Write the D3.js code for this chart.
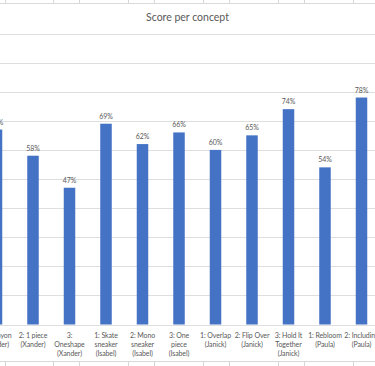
<!DOCTYPE html>
<html>
<head>
<meta charset="utf-8">
<script src="https://cdnjs.cloudflare.com/ajax/libs/d3/7.8.5/d3.min.js"></script>
<style>
  html, body { margin: 0; padding: 0; background: #fff; }
  svg { display: block; font-family: Lato, "Liberation Sans", sans-serif; }
</style>
</head>
<body>
<script>
// concepts, one line per wrapped label row
var concepts = [
	["1: Canyon", "(Xander)"],
	["2: 1 piece", "(Xander)"],
	["3:", "Oneshape", "(Xander)"],
	["1: Skate", "sneaker", "(Isabel)"],
	["2: Mono", "sneaker", "(Isabel)"],
	["3: One", "piece", "(Isabel)"],
	["1: Overlap", "(Janick)"],
	["2: Flip Over", "(Janick)"],
	["3: Hold It", "Together", "(Janick)"],
	["1: Rebloom", "(Paula)"],
	["2: Including", "(Paula)"]
];
var scores = [0.67, 0.58, 0.47, 0.69, 0.62, 0.66, 0.60, 0.65, 0.74, 0.54, 0.78];
var yTicks = [0, 0.1, 0.2, 0.3, 0.4, 0.5, 0.6, 0.7, 0.8, 0.9, 1];

var w = 375;
var h = 366;
var step = 36.5;
var firstCenter = -3.5;
var textCol = "#595959";

var svg = d3.select("body")
	.append("svg")
	.attr("width", w)
	.attr("height", h);

svg.append("rect")
	.attr("width", w)
	.attr("height", h)
	.attr("fill", "#fff");

// spreadsheet cells peeking out above and below the chart
var cellLines = [5, 53, 79, 128, 154, 203, 229, 278, 304, 353];
svg.selectAll("line.cellTop")
	.data(cellLines)
	.enter()
	.append("line")
	.attr("x1", function(d) { return d + 0.5; })
	.attr("x2", function(d) { return d + 0.5; })
	.attr("y1", 0)
	.attr("y2", 3)
	.attr("stroke", "#d6d6d6");
svg.selectAll("line.cellBot")
	.data(cellLines)
	.enter()
	.append("line")
	.attr("x1", function(d) { return d + 0.5; })
	.attr("x2", function(d) { return d + 0.5; })
	.attr("y1", 362)
	.attr("y2", h)
	.attr("stroke", "#d6d6d6");
svg.append("line").attr("x1", 0).attr("x2", w).attr("y1", 3.5).attr("y2", 3.5).attr("stroke", "#d9d9d9");
svg.append("line").attr("x1", 0).attr("x2", w).attr("y1", 361.5).attr("y2", 361.5).attr("stroke", "#d9d9d9");

var x = d3.scaleBand()
	.domain(d3.range(concepts.length))
	.range([firstCenter - step / 2, firstCenter - step / 2 + step * concepts.length])
	.paddingInner(0.685)
	.paddingOuter(0.685 / 2);

var y = d3.scaleLinear()
	.domain([0, 1])
	.range([324.5, 33.5]);

// gridlines
svg.selectAll("line.grid")
	.data(yTicks)
	.enter()
	.append("line")
	.attr("x1", 0)
	.attr("x2", w)
	.attr("y1", function(d) { return Math.round(y(d)) + 0.5; })
	.attr("y2", function(d) { return Math.round(y(d)) + 0.5; })
	.attr("stroke", "#dedede")
	.attr("stroke-width", 1);

svg.append("text")
	.attr("x", 187.5)
	.attr("y", 20.5)
	.attr("text-anchor", "middle")
	.attr("font-size", "10.5px")
	.attr("fill", textCol)
	.text("Score per concept");

svg.selectAll("rect.bar")
	.data(scores)
	.enter()
	.append("rect")
	.attr("class", "bar")
	.attr("x", function(d, i) { return x(i); })
	.attr("y", function(d) { return y(d); })
	.attr("width", x.bandwidth())
	.attr("height", function(d) { return y(0) - y(d); })
	.attr("fill", "#4472c4");

svg.selectAll("text.val")
	.data(scores)
	.enter()
	.append("text")
	.attr("x", function(d, i) { return x(i) + x.bandwidth() / 2; })
	.attr("y", function(d) { return y(d) - 5; })
	.attr("text-anchor", "middle")
	.attr("font-size", "7px")
	.attr("fill", textCol)
	.text(d3.format(".0%"));

var labels = svg.selectAll("text.cat")
	.data(concepts)
	.enter()
	.append("text")
	.attr("text-anchor", "middle")
	.attr("font-size", "7px")
	.attr("letter-spacing", "-0.1px")
	.attr("fill", textCol);

labels.each(function(d, i) {
	var cx = x(i) + x.bandwidth() / 2;
	d3.select(this).selectAll("tspan")
		.data(d)
		.enter()
		.append("tspan")
		.attr("x", cx)
		.attr("y", function(t, j) { return 338 + j * 8.8; })
		.text(function(t) { return t; });
});
</script>
</body>
</html>
